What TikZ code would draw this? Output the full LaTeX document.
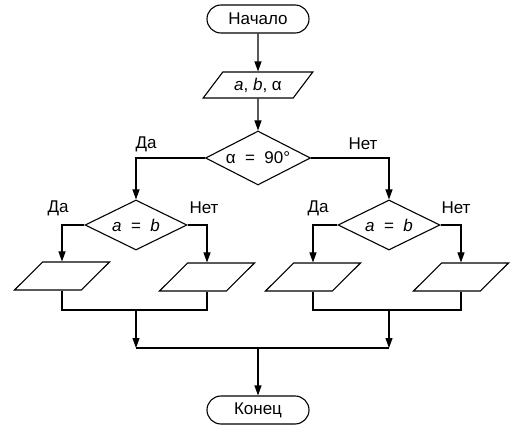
\documentclass[tikz,border=0pt]{standalone}
\usepackage{fontspec}
\setmainfont{Liberation Sans}
\usetikzlibrary{shapes.geometric,shapes.misc,arrows.meta}
\begin{document}
\begin{tikzpicture}[x=1pt,y=-1pt,>={Triangle[length=10pt,width=7pt]},line width=1.1pt,
		every node/.style={font=\fontsize{17}{20}\selectfont},
		term/.style={draw,rounded rectangle,minimum width=102pt,minimum height=28pt,inner sep=0pt},
		io/.style={draw,trapezium,trapezium stretches=true,trapezium left angle=54,trapezium right angle=126,minimum width=95pt,minimum height=28pt,inner sep=1pt},
		cond/.style={draw,diamond,aspect=2.5,inner sep=0pt,minimum width=102pt,minimum height=50pt}]
		\useasboundingbox (0,0) rectangle (515,436);
		\node[term] (start) at (258,19) {Начало};
		\node[io,minimum width=110pt,minimum height=26pt,trapezium left angle=50,trapezium right angle=130] (data) at (258,85) {\textit{a},\ \textit{b},\ α};
		\node[cond,minimum width=105pt,minimum height=54pt] (test) at (258,158) {α\ \ =\ \ 90°};
		\node[cond] (left) at (136,225) {\textit{a}\ \ =\ \ \textit{b}};
		\node[cond] (right) at (389,225) {\textit{a}\ \ =\ \ \textit{b}};
		\node[io] (out1) at (62,276) {};
		\node[io] (out2) at (207,277) {};
		\node[io] (out3) at (313,277) {};
		\node[io] (out4) at (461,277) {};
		\node[term] (stop) at (258,410) {Конец};
		
		\node (yes0) at (146,144) {Да};
		\node (no0) at (363,144) {Нет};
		\node (yes1) at (58,208) {Да};
		\node (no1) at (204,208) {Нет};
		\node (yes2) at (318,208) {Да};
		\node (no2) at (456,208) {Нет};
		
		\coordinate (m1) at (136,310);
		\coordinate (m2) at (389,310);
		\coordinate (m3) at (258,348);
		
		\draw[->] (start) -- (data);
		\draw[->] (data) -- (test);
		\draw[->] (test.west) -| (left.north);
		\draw[->] (test.east) -| (right.north);
		\draw[->] (left.west) -| (out1);
		\draw[->] (left.east) -| (out2);
		\draw[->] (right.west) -| (out3);
		\draw[->] (right.east) -| (out4);
		\draw (out1.south) |- (m1) -| (out2.south);
		\draw (out3.south) |- (m2) -| (out4.south);
		\draw[->] (m1) -- (m1 |- m3);
		\draw[->] (m2) -- (m2 |- m3);
		\draw (m1 |- m3) -- (m2 |- m3);
		\draw[->] (m3) -- (stop);
	\end{tikzpicture}
\end{document}
